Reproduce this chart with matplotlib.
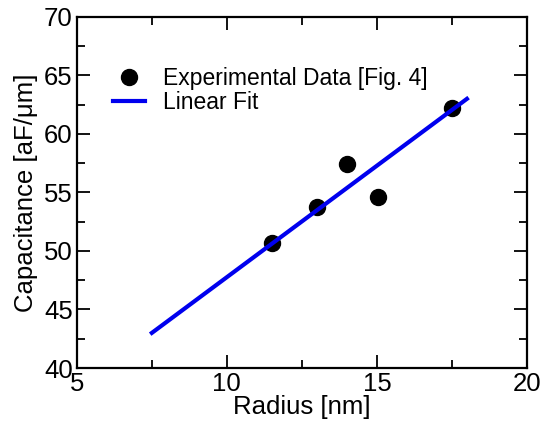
import numpy as np
import matplotlib.pyplot as plt

plt.rcParams['font.family'] = ['Liberation Sans', 'DejaVu Sans']

# data
radius = np.array([11.5, 13.0, 14.0, 15.05, 17.5])
capacitance = np.array([50.7, 53.75, 57.45, 54.65, 62.2])
fit_x = np.array([7.5, 18.0])
fit_y = np.array([43.0, 63.0])

fig, ax = plt.subplots(figsize=(5.41, 4.23), dpi=100)
fig.subplots_adjust(left=0.142, right=0.974, bottom=0.130, top=0.960)

ax.plot(radius, capacitance, "o", color="black", markersize=11.5, label="Experimental Data [Fig. 4]")
ax.plot(fit_x, fit_y, "-", color="#0000ee", linewidth=3, label="Linear Fit")

ax.set_xlim(5, 20)
ax.set_ylim(40, 70)
ax.set_xticks([5, 10, 15, 20])
ax.set_yticks([40, 45, 50, 55, 60, 65, 70])
ax.set_xticks([7.5, 12.5, 17.5], minor=True)
ax.set_yticks([42.5, 47.5, 52.5, 57.5, 62.5, 67.5], minor=True)

for s in ax.spines.values():
    s.set_linewidth(1.6)
ax.tick_params(which="both", direction="in", top=True, right=True, width=1.3, labelsize=18.5, pad=3)
ax.tick_params(which="major", length=9.5)
ax.tick_params(which="minor", length=6)

ax.set_xlabel("Radius [nm]", fontsize=18.5, labelpad=-1)
ax.set_ylabel("Capacitance [aF/\u03bcm]", fontsize=18.5, labelpad=4)

ax.legend(loc="upper left", bbox_to_anchor=(0.08, 0.857), frameon=False, fontsize=16.5,
          handlelength=1.4, handletextpad=0.8, labelspacing=0.05, borderaxespad=0, borderpad=0)

fig.savefig("out.png", format="png")
